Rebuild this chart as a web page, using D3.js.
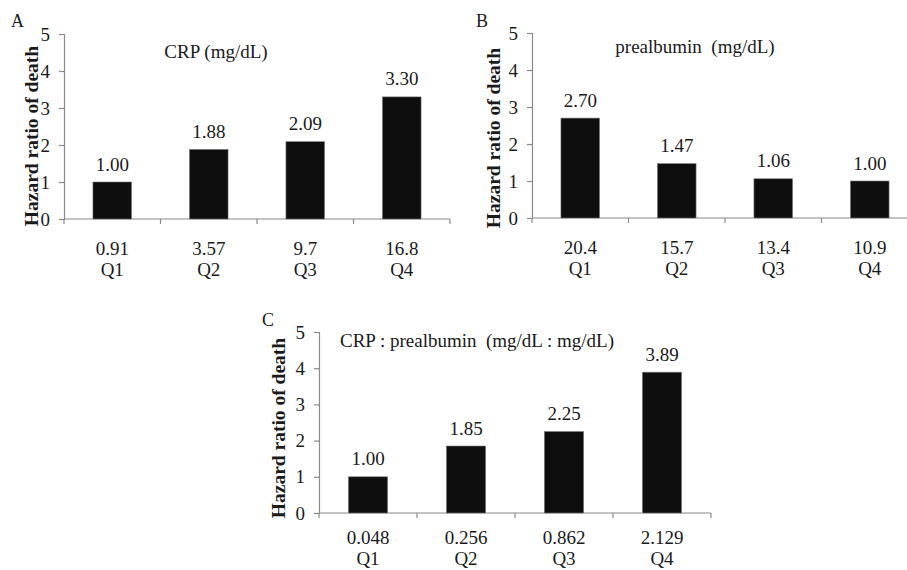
<!DOCTYPE html>
<html>
<head>
<meta charset="utf-8">
<script src="https://cdn.jsdelivr.net/npm/d3@7"></script>
<style>
  html, body { margin: 0; padding: 0; background: #fff; }
  svg { display: block; }
  text { font-family: "Liberation Serif", "Times New Roman", serif; fill: #1a1a1a; }
</style>
</head>
<body>
<svg id="chart" width="907" height="570"></svg>
<script>
// ---- data ----
const quartiles = ["Q1", "Q2", "Q3", "Q4"];
const crpCutoffs = ["0.91", "3.57", "9.7", "16.8"];
const crpHR = [1.00, 1.88, 2.09, 3.30];
const prealbCutoffs = ["20.4", "15.7", "13.4", "10.9"];
const prealbHR = [2.70, 1.47, 1.06, 1.00];
const ratioCutoffs = ["0.048", "0.256", "0.862", "2.129"];
const ratioHR = [1.00, 1.85, 2.25, 3.89];
const yTicks = [0, 1, 2, 3, 4, 5];
const yTitle = "Hazard ratio of death";

const panels = [
  { letter: "A", title: "CRP (mg/dL)", cut: crpCutoffs, hr: crpHR,
    x0: 64, x1: 450, y0: 219, y5: 34, letterX: 11, letterY: 27,
    titleX: 216, titleY: 58, yTitleX: 38, yTitleY: 136, cutDy: 35.5, qDy: 56.5 },
  { letter: "B", title: "prealbumin\u00a0 (mg/dL)", cut: prealbCutoffs, hr: prealbHR,
    x0: 532, x1: 918, y0: 218, y5: 33, letterX: 476, letterY: 27,
    titleX: 695, titleY: 53, yTitleX: 500, yTitleY: 138, cutDy: 35.5, qDy: 56.5 },
  { letter: "C", title: "CRP : prealbumin\u00a0 (mg/dL : mg/dL)", cut: ratioCutoffs, hr: ratioHR,
    x0: 319, x1: 711, y0: 513, y5: 332, letterX: 262, letterY: 326,
    titleX: 477, titleY: 347, yTitleX: 285, yTitleY: 428, cutDy: 30.5, qDy: 52 }
];

const svg = d3.select("#chart");
svg.append("rect").attr("width", 907).attr("height", 570).attr("fill", "#fff");

const axisColor = "#8a8a8a";

panels.forEach(p => {
  const g = svg.append("g");
  const y = d3.scaleLinear().domain([0, 5]).range([p.y0, p.y5]);
  const xCat = d3.scaleBand().domain(quartiles).range([p.x0, p.x1]).padding(0);
  const xBar = d3.scaleBand().domain(quartiles).range([p.x0, p.x1])
    .paddingInner(0.6).paddingOuter(0.3);

  // y axis
  const yAxis = d3.axisLeft(y).tickValues(yTicks).tickSize(5).tickPadding(9)
    .tickFormat(d3.format("d"));
  const ya = g.append("g").attr("transform", `translate(${p.x0},0)`).call(yAxis);
  ya.select(".domain").attr("stroke", axisColor).attr("stroke-width", 1.2);
  ya.selectAll(".tick line").attr("stroke", axisColor).attr("stroke-width", 1.2);
  ya.selectAll(".tick text").attr("font-size", 19).attr("fill", "#1a1a1a")
    .attr("font-family", "Liberation Serif, Times New Roman, serif");

  // x axis: line at y=0 with ticks at category boundaries
  const bounds = quartiles.map(q => xCat(q)).concat([xCat.range()[1]]);
  g.append("line").attr("x1", p.x0).attr("x2", p.x1)
    .attr("y1", y(0)).attr("y2", y(0))
    .attr("stroke", axisColor).attr("stroke-width", 1.2);
  g.selectAll(".xt").data(bounds).enter().append("line")
    .attr("x1", d => d).attr("x2", d => d)
    .attr("y1", y(0)).attr("y2", y(0) + 5)
    .attr("stroke", axisColor).attr("stroke-width", 1.2);

  // bars
  g.selectAll(".bar").data(p.hr).enter().append("rect")
    .attr("x", (d, i) => xBar(quartiles[i]))
    .attr("y", d => y(d))
    .attr("width", xBar.bandwidth())
    .attr("height", d => y(0) - y(d))
    .attr("fill", "#0e0e0e")
    .attr("stroke", "#777").attr("stroke-width", 0.6);

  // value labels
  g.selectAll(".val").data(p.hr).enter().append("text")
    .attr("x", (d, i) => xCat(quartiles[i]) + xCat.bandwidth() / 2)
    .attr("y", d => y(d) - 11.5)
    .attr("text-anchor", "middle").attr("font-size", 19)
    .text(d => d3.format(".2f")(d));

  // category labels (cutoff + quartile)
  g.selectAll(".cut").data(p.cut).enter().append("text")
    .attr("x", (d, i) => xCat(quartiles[i]) + xCat.bandwidth() / 2)
    .attr("y", y(0) + p.cutDy)
    .attr("text-anchor", "middle").attr("font-size", 19)
    .text(d => d);
  g.selectAll(".q").data(quartiles).enter().append("text")
    .attr("x", d => xCat(d) + xCat.bandwidth() / 2)
    .attr("y", y(0) + p.qDy)
    .attr("text-anchor", "middle").attr("font-size", 19)
    .text(d => d);

  // panel title
  g.append("text").attr("x", p.titleX).attr("y", p.titleY)
    .attr("text-anchor", "middle").attr("font-size", 19)
    .text(p.title);

  // y title
  g.append("text")
    .attr("transform", `translate(${p.yTitleX},${p.yTitleY}) rotate(-90)`)
    .attr("text-anchor", "middle").attr("font-size", 19.5).attr("font-weight", "bold")
    .text(yTitle);

  // panel letter
  g.append("text").attr("x", p.letterX).attr("y", p.letterY)
    .attr("font-size", 18).text(p.letter);
});
</script>
</body>
</html>
